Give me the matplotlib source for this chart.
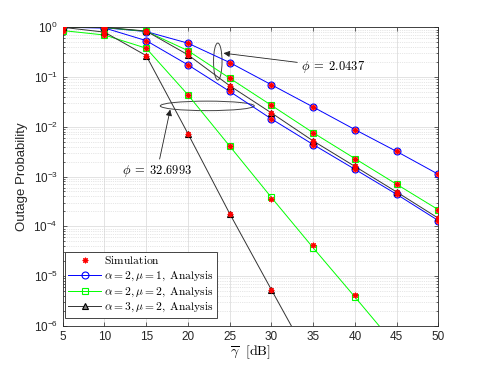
import numpy as np
import matplotlib
matplotlib.use('Agg')
from matplotlib import pyplot as plt
from matplotlib.patches import Ellipse
from matplotlib.transforms import ScaledTranslation
from matplotlib.ticker import LogLocator, NullFormatter

plt.rcParams['font.family'] = ['Liberation Sans', 'DejaVu Sans']
plt.rcParams['mathtext.fontset'] = 'cm'

snr = [5, 10, 15, 20, 25, 30, 35, 40, 45, 50]

# phi = 2.0437
blue_hi = [1.0, 0.98, 0.82, 0.48, 0.196, 0.070, 0.025, 0.0088, 0.0032, 0.00111]
green_hi = [1.0, 0.99, 0.83, 0.34, 0.095, 0.027, 0.0076, 0.0023, 0.0007, 0.000215]
black_hi = [1.0, 1.0, 0.84, 0.28, 0.067, 0.019, 0.0052, 0.0016, 0.00049, 0.000145]
# phi = 32.6993
blue_lo = [1.0, 0.97, 0.54, 0.176, 0.0515, 0.0144, 0.0044, 0.0014, 0.00044, 0.00013]
green_lo = [0.86, 0.70, 0.38, 0.044, 0.0041, 0.00038, 3.7e-5, 3.8e-6, 3.8e-7, 3.8e-8]
black_lo = [1.0, 0.80, 0.27, 0.0073, 0.00018, 5.3e-6, 1.6e-7, 5e-9, 2e-10, 1e-11]

# simulation points
sim_blue_hi = [1.0, 0.98, 0.82, 0.48, 0.196, 0.070, 0.025, 0.0088, 0.0032, 0.00110]
sim_green_hi = [1.0, 0.99, 0.83, 0.34, 0.095, 0.027, 0.0076, 0.0023, 0.0007, 0.000215]
sim_black_hi = [1.0, 1.0, 0.84, 0.28, 0.067, 0.019, 0.0052, 0.0016, 0.00049, 0.000145]
sim_blue_lo = [1.0, 0.97, 0.54, 0.176, 0.0515, 0.0144, 0.0044, 0.0014, 0.00044, 0.000125]
sim_green_lo = [0.86, 0.70, 0.38, 0.044, 0.0041, 0.00036, 4.2e-5, 4.2e-6, np.nan, np.nan]
sim_black_lo = [1.0, 0.80, 0.27, 0.0073, 0.00018, 5.3e-6, np.nan, np.nan, np.nan, np.nan]

fig = plt.figure(figsize=(4.85, 3.67), dpi=100)
ax = fig.add_axes([0.1293, 0.1125, 0.7744, 0.8131])

ms = 5
lw = 0.7
for y in [blue_hi, blue_lo]:
    l_blue, = ax.semilogy(snr, y, color='b', lw=lw, marker='o', ms=ms, mfc='none', mec='b', mew=0.8)
for y in [green_hi, green_lo]:
    l_green, = ax.semilogy(snr, y, color='#00ff00', lw=lw, marker='s', ms=ms, mfc='none', mec='#00ff00', mew=0.8)
for y in [black_hi, black_lo]:
    l_black, = ax.semilogy(snr, y, color='#333333', lw=lw, marker='^', ms=ms, mfc='#808080', mec='k', mew=0.8)

asterisk = (8, 2, 0)
for y in [sim_blue_hi, sim_green_hi, sim_black_hi, sim_blue_lo, sim_green_lo, sim_black_lo]:
    l_sim, = ax.semilogy(snr, y, ls='none', marker=asterisk, ms=4, mec='r', mew=0.8, color='r', zorder=5)

ax.set_xlim(5, 50)
ax.set_ylim(1e-6, 1)
ax.set_xticks(snr)
ax.yaxis.set_major_locator(LogLocator(base=10, numticks=10))
ax.yaxis.set_minor_locator(LogLocator(base=10, subs=np.arange(2, 10), numticks=100))
ax.yaxis.set_minor_formatter(NullFormatter())

ax.grid(True, which='major', color='#dedede', lw=0.6, ls='-')
ax.grid(True, which='minor', axis='y', color='#cfcfcf', lw=0.5, ls=':')
ax.set_axisbelow(True)
ax.tick_params(which='both', direction='in', top=True, right=True, labelsize=8.5, colors='#262626', width=0.5)
ax.tick_params(which='major', length=3)
ax.tick_params(which='minor', length=1.6)
for s in ax.spines.values():
    s.set_linewidth(0.6)
    s.set_color('#262626')

ax.set_ylabel('Outage Probability', fontsize=9.5, color='#262626')
ax.set_xlabel(r'$\overline{\gamma}\ \ \mathrm{[dB]}$', fontsize=10, labelpad=1)

# ellipses and labels for the two phi groups
arrow = dict(arrowstyle='-|>', color='#222222', lw=0.6, mutation_scale=9, shrinkA=1, shrinkB=0)
e1 = Ellipse((0, 0), 0.085, 0.37, fill=False, ec='#444444', lw=0.7,
             transform=fig.dpi_scale_trans + ScaledTranslation(23.58, 0.205, ax.transData))
e2 = Ellipse((0, 0), 0.94, 0.095, fill=False, ec='#444444', lw=0.7,
             transform=fig.dpi_scale_trans + ScaledTranslation(22.32, 0.0263, ax.transData))
ax.add_patch(e1)
ax.add_patch(e2)
ax.annotate(r'$\phi\;=\;2.0437$', xy=(24.27, 0.302), xytext=(33.6, 0.16),
            ha='left', va='center', fontsize=9, arrowprops=arrow)
ax.annotate(r'$\phi\;=\;32.6993$', xy=(17.88, 0.0222), xytext=(16.3, 0.00128),
            ha='center', va='center', fontsize=9, arrowprops=arrow)

leg = ax.legend([l_sim, l_blue, l_green, l_black],
                [r'$\mathrm{Simulation}$',
                 r'$\alpha = 2, \mu = 1,\ \mathrm{Analysis}$',
                 r'$\alpha = 2, \mu = 2,\ \mathrm{Analysis}$',
                 r'$\alpha = 3, \mu = 2,\ \mathrm{Analysis}$'],
                loc='lower left', bbox_to_anchor=(0.006, 0.026), borderaxespad=0,
                fontsize=8.3, handlelength=2.8, handletextpad=0.25, labelspacing=0.2,
                borderpad=0.3, fancybox=False, framealpha=1, edgecolor='#262626')
leg.get_frame().set_linewidth(0.6)

fig.savefig('out.png', dpi=100)
